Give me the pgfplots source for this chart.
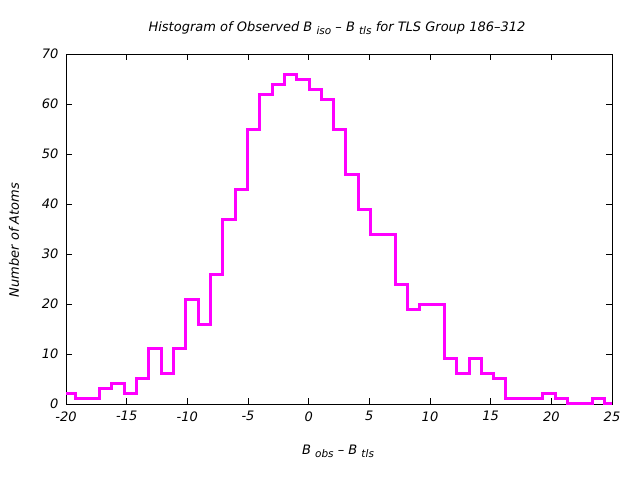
\documentclass[border=0pt]{standalone}
\usepackage{pgfplots}
\pgfplotsset{compat=1.18}
\usepackage{fontspec}
\setmainfont{DejaVu Sans}
\newcommand\sub[1]{\raisebox{-0.4ex}{\fontsize{10.5bp}{11bp}\selectfont #1}}
\begin{document}
\begin{tikzpicture}
\path[use as bounding box] (0,0) rectangle (640bp,480bp);
\begin{axis}[
  at={(66bp,76bp)}, anchor=south west,
  width=546bp, height=350bp, scale only axis,
  xmin=-20, xmax=25, ymin=0, ymax=70,
  xtick={-20,-15,...,25}, ytick={0,10,...,70},
  tick align=inside, xtick pos=both, ytick pos=both,
  major tick length=6bp,
  axis line style={black, line width=0.8bp},
  tick style={black, line width=0.8bp},
  clip=false,
  /pgf/number format/assume math mode=true,
  ticklabel style={font=\fontsize{13bp}{15bp}\selectfont\itshape},
  xticklabel style={yshift=-4bp},
  yticklabel style={xshift=-4bp},
]
\addplot[const plot, color={rgb,255:red,255;green,0;blue,255}, line width=3bp] coordinates {
(-20,2) (-19.25,1) (-18.24,1) (-17.22,3) (-16.21,4) (-15.19,2) (-14.18,5) (-13.16,11) (-12.15,6) (-11.13,11) (-10.12,21) (-9.10,16) (-8.09,26) (-7.07,37) (-6.06,43) (-5.04,55) (-4.03,62) (-3.01,64) (-2.00,66) (-0.99,65) (0.03,63) (1.04,61) (2.06,55) (3.07,46) (4.09,39) (5.10,34) (6.12,34) (7.13,24) (8.15,19) (9.16,20) (10.18,20) (11.19,9) (12.21,6) (13.22,9) (14.24,6) (15.25,5) (16.26,1) (17.28,1) (18.29,1) (19.31,2) (20.32,1) (21.34,0) (22.35,0) (23.37,1) (24.38,0) (25,0)
};
\end{axis}
\node[font=\fontsize{13bp}{15bp}\selectfont\itshape] at (337bp,452bp) {Histogram of Observed B \sub{iso} – B \sub{tls} for TLS Group 186–312};
\node[font=\fontsize{13bp}{15bp}\selectfont\itshape] at (338bp,29bp) {B \sub{obs} – B \sub{tls}};
\node[font=\fontsize{13bp}{15bp}\selectfont\itshape, rotate=90] at (14bp,240bp) {Number of Atoms};
\end{tikzpicture}
\end{document}
